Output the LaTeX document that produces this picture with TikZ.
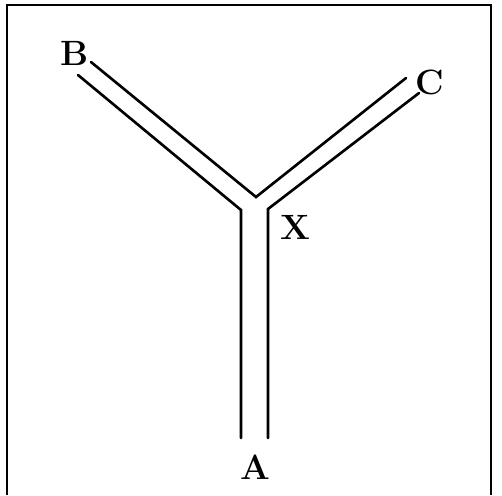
\documentclass[tikz,border=0pt]{standalone}
\usepackage{tikz}
\usetikzlibrary{positioning}
\begin{document}
\begin{tikzpicture}[x=0.02cm,y=-0.02cm,
  lbl/.style={font=\fontsize{20}{24}\selectfont\bfseries,inner sep=0pt},
  wall/.style={draw=black,line width=1.5pt,line cap=round,line join=miter},
  frm/.style={draw=black,line width=1.2pt}]
\useasboundingbox (0,0) rectangle (502,495);
\draw[frm] (7,495) -- (7,5) -- (491,5) -- (491,495);
% labels
\node[lbl] (b) at (74.5,53) {B};
\node[lbl] (c) at (430,82) {C};
\node[lbl] (x) at (295.5,227.5) {X};
\node[lbl] (a) at (255,467.5) {A};
% pipe walls
\coordinate (al) at (241,438);
\coordinate (ar) at (268,438);
\coordinate (xl) at (241,210);
\coordinate (xr) at (268,209);
\coordinate (xm) at (256,197);
\coordinate (bo) at (91,62);
\coordinate (bi) at (78,75);
\coordinate (ci) at (406,78);
\coordinate (co) at (419,93);
\draw[wall] (al) -- (xl) -- (bi);
\draw[wall] (bo) -- (xm) -- (ci);
\draw[wall] (ar) -- (xr) -- (co);
\end{tikzpicture}
\end{document}
